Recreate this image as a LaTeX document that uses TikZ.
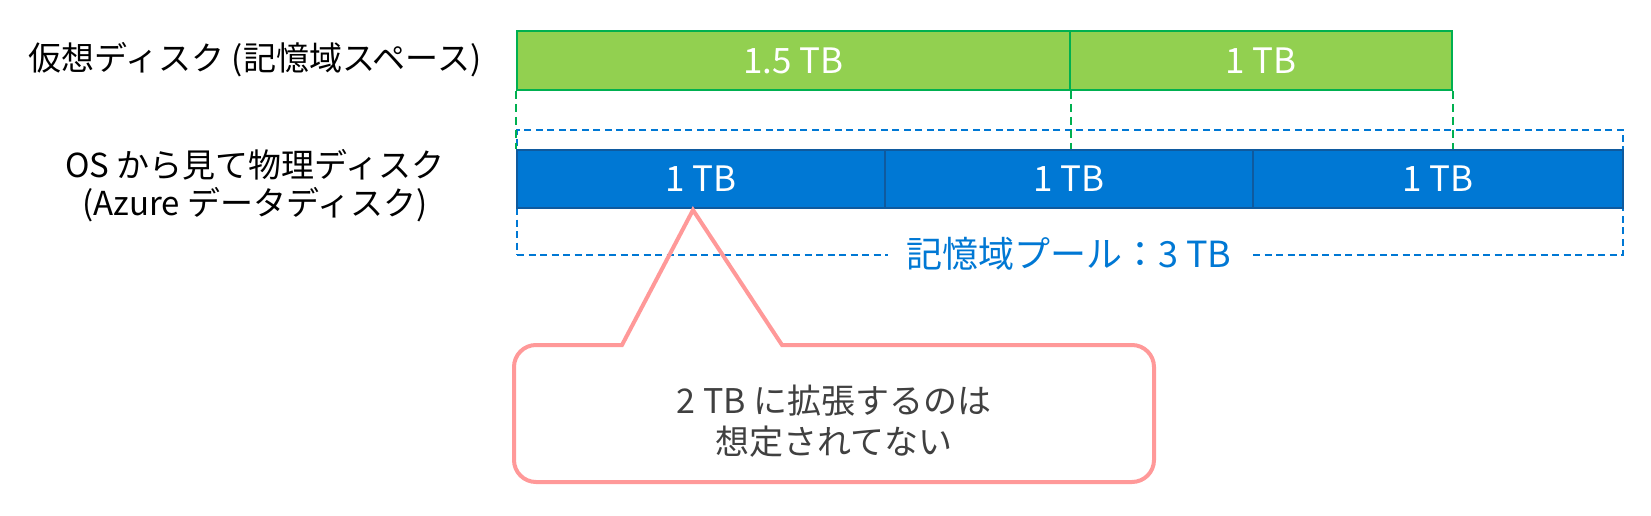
\documentclass[tikz,border=0pt]{standalone}
\usepackage{fontspec}
\setmainfont{Noto Sans CJK JP}
\definecolor{gfill}{HTML}{92D050}
\definecolor{gline}{HTML}{00B050}
\definecolor{bfill}{HTML}{0078D4}
\definecolor{bline}{HTML}{0F5A9E}
\definecolor{pink}{HTML}{FF9999}
\definecolor{ctext}{HTML}{404040}
\begin{document}
\begin{tikzpicture}[x=1pt,y=-1pt,
  greenbar/.style={draw=gline, fill=gfill, line width=2pt, minimum height=59pt, inner sep=0pt, anchor=north west, text=white, font=\fontsize{35}{40}\selectfont},
  bluebar/.style={draw=bline, fill=bfill, line width=2pt, minimum height=58pt, inner sep=0pt, anchor=north west, text=white, font=\fontsize{35}{40}\selectfont},
  poolbox/.style={draw=bfill, line width=2pt, dash pattern=on 7pt off 4.5pt, minimum width=1106pt, minimum height=125pt, inner sep=0pt, anchor=north west},
  poollabel/.style={fill=white, text=bfill, inner xsep=18pt, inner ysep=2pt, font=\fontsize{36}{40}\selectfont},
  gdash/.style={draw=gline, line width=2pt, dash pattern=on 8pt off 5pt},
  sidelabel/.style={text=black, align=center, font=\fontsize{33}{38}\selectfont},
  callout/.style={draw=pink, line width=4pt, line join=miter},
  calltext/.style={text=ctext, align=center, font=\fontsize{34}{41}\selectfont}
]
\useasboundingbox (0,0) rectangle (1651,516);
% storage pool outline
\node[poolbox] (pool) at (516,129) {};
\node[poollabel] (pl) at (1069,254) {記憶域プール：3 TB};
% virtual disk
\node[greenbar, minimum width=553pt] (v1) at (516,30) {1.5 TB};
\node[greenbar, minimum width=382pt] (v2) at (1069,30) {1 TB};
% physical disks
\node[bluebar, minimum width=368pt] (p1) at (516,149) {1 TB};
\node[bluebar, minimum width=368pt] (p2) at (884,149) {1 TB};
\node[bluebar, minimum width=370pt] (p3) at (1252,149) {1 TB};
% green dashed guides
\draw[gdash] (v1.south west) -- (v1.south west |- p1.north);
\draw[gdash] (v1.south east) -- (v1.south east |- p1.north);
\draw[gdash] (v2.south east) -- (v2.south east |- p1.north);
% side labels
\node[sidelabel] (l1) at (255,60) {仮想ディスク (記憶域スペース)};
\node[sidelabel] (l2) at (255,186) {OS から見て物理ディスク\\(Azure データディスク)};
% callout
\draw[callout] (693,210) -- (782,345) -- (900,345) [rounded corners=22pt] -- (1154,345) -- (1154,482) -- (514,482) -- (514,345) -- (600,345) [sharp corners] -- (622,345) -- cycle;
\node[calltext] (ct) at (834,421) {2 TB に拡張するのは\\想定されてない};
\end{tikzpicture}
\end{document}
